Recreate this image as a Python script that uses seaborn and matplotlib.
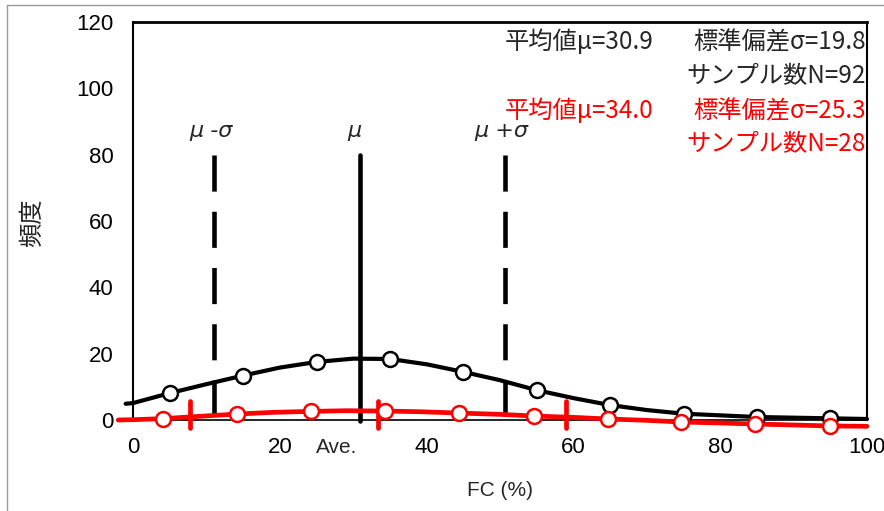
import numpy as np
import pandas as pd
import seaborn as sns
import matplotlib.pyplot as plt
from matplotlib.lines import Line2D

sns.set_theme(style="white")
plt.rcParams["font.family"] = ["Liberation Sans", "Noto Sans CJK JP"]
plt.rcParams["lines.scale_dashes"] = False

# curve values (x in FC %, y in frequency)
black_curve_x = [-1, 0, 5, 10, 15, 20, 25, 30, 35, 40, 45, 50, 55, 60, 65, 70, 75, 80, 85, 90, 95, 100]
black_curve_y = [4.9, 5.1, 8.1, 10.8, 13.4, 15.8, 17.5, 18.5, 18.4, 16.8, 14.5, 12.0, 9.0, 6.6, 4.5, 3.0, 1.9, 1.4, 0.9, 0.7, 0.5, 0.3]
red_curve_x = [-2, 0, 4.1, 9, 14.2, 19, 24.3, 29, 34.3, 39, 44.4, 50, 54.6, 60, 64.7, 70, 74.6, 80, 84.7, 90, 94.9, 100]
red_curve_y = [0.0, 0.1, 0.4, 1.1, 1.8, 2.3, 2.6, 2.8, 2.7, 2.5, 2.1, 1.7, 1.2, 0.8, 0.3, -0.1, -0.6, -0.9, -1.2, -1.5, -1.8, -1.9]

black_centers = [5, 15, 25, 35, 45, 55, 65, 75, 85, 95]
black_points = [8.1, 13.4, 17.5, 18.4, 14.5, 9.0, 4.5, 1.9, 0.9, 0.5]
red_centers = [4.1, 14.2, 24.3, 34.3, 44.4, 54.6, 64.7, 74.6, 84.7, 94.9]
red_points = [0.4, 1.8, 2.6, 2.7, 2.1, 1.2, 0.3, -0.6, -1.2, -1.8]
red_tick_x = [7.8, 33.4, 59.0]

black_mu, black_sigma, black_n = 30.9, 19.8, 92
red_mu, red_sigma, red_n = 34.0, 25.3, 28

black_curve = pd.DataFrame({"FC": black_curve_x, "freq": black_curve_y})
red_curve = pd.DataFrame({"FC": red_curve_x, "freq": red_curve_y})
black_pts = pd.DataFrame({"FC": black_centers, "freq": black_points})
red_pts = pd.DataFrame({"FC": red_centers, "freq": red_points})

fig = plt.figure(figsize=(8.84, 5.11), dpi=100)
ax = fig.add_axes([133 / 884, 1 - 420 / 511, (867 - 133) / 884, (420 - 22) / 511])

# mean / sigma guide lines for the black group
ax.plot([black_mu, black_mu], [80, -0.4], color="black", lw=3.3, clip_on=False, zorder=2)
for xv in [black_mu - black_sigma, black_mu + black_sigma]:
    ln, = ax.plot([xv, xv], [80, 0], color="black", lw=3.3, zorder=2)
    ln.set_dashes((26, 14.5))

sns.lineplot(data=black_curve, x="FC", y="freq", ax=ax, color="black", lw=3,
             sort=False, clip_on=False, zorder=3)
sns.lineplot(data=red_curve, x="FC", y="freq", ax=ax, color="red", lw=3.4,
             sort=False, clip_on=False, zorder=4)

# red mean / sigma ticks
for xv in red_tick_x:
    ax.plot([xv, xv], [5.8, -2.3], color="red", lw=3.4, clip_on=False, zorder=5)

sns.scatterplot(data=black_pts, x="FC", y="freq", ax=ax, s=115, color="white",
                edgecolor="black", linewidth=1.8, zorder=6, clip_on=False)
sns.scatterplot(data=red_pts, x="FC", y="freq", ax=ax, s=115, color="white",
                edgecolor="red", linewidth=1.8, zorder=7, clip_on=False)

ax.set_xlim(0, 100)
ax.set_ylim(0, 120)
ax.set_xticks(range(0, 101, 20))
ax.set_yticks(range(0, 121, 20))
ax.tick_params(direction="in", length=6, width=1.2, labelsize=16, color="black",
               labelcolor="black")
ax.tick_params(axis="y", pad=14)
ax.tick_params(axis="x", pad=12)
for side, lw in [("left", 1.5), ("right", 1.5), ("top", 2), ("bottom", 1.2)]:
    ax.spines[side].set_color("black")
    ax.spines[side].set_linewidth(lw)

ax.set_xlabel("")
ax.set_ylabel("")
fig.text(500 / 884, 1 - 490 / 511, "FC (%)", ha="center", va="center", fontsize=15)
fig.text(32 / 884, 1 - 223 / 511, "頻度", ha="center", va="center", rotation=90,
         fontsize=17.5, family=["Noto Sans CJK JP"])

# greek labels above the guide lines
for xv, lab in [(black_mu - black_sigma, "μ -σ"), (black_mu, "μ"), (black_mu + black_sigma, "μ +σ")]:
    ax.text(xv + (-0.5 if lab != "μ" else -0.7), 87, lab, ha="center", va="center",
            fontsize=16, style="italic", family=["DejaVu Sans"])
ax.text(27.7, -8.2, "Ave.", ha="center", va="center", fontsize=15, clip_on=False)

# statistics text
cjk = ["Noto Sans CJK JP"]
fs = 17.5
fig.text(654 / 884, 1 - 42 / 511, f"平均値μ={black_mu}", ha="right", va="center", fontsize=fs, family=cjk)
fig.text(866 / 884, 1 - 42 / 511, f"標準偏差σ={black_sigma}", ha="right", va="center", fontsize=fs, family=cjk)
fig.text(866 / 884, 1 - 76 / 511, f"サンプル数N={black_n}", ha="right", va="center", fontsize=fs, family=cjk)
fig.text(654 / 884, 1 - 111 / 511, f"平均値μ={red_mu:.1f}", ha="right", va="center", fontsize=fs, family=cjk, color="red")
fig.text(866 / 884, 1 - 111 / 511, f"標準偏差σ={red_sigma}", ha="right", va="center", fontsize=fs, family=cjk, color="red")
fig.text(866 / 884, 1 - 144 / 511, f"サンプル数N={red_n}", ha="right", va="center", fontsize=fs, family=cjk, color="red")

# gray frame edges from the original sheet
fig.add_artist(Line2D([7 / 884, 1], [1 - 5 / 511, 1 - 5 / 511], color="#999999", lw=1))
fig.add_artist(Line2D([7 / 884, 7 / 884], [0, 1 - 5 / 511], color="#999999", lw=1))

fig.savefig("out.png", dpi=100)
